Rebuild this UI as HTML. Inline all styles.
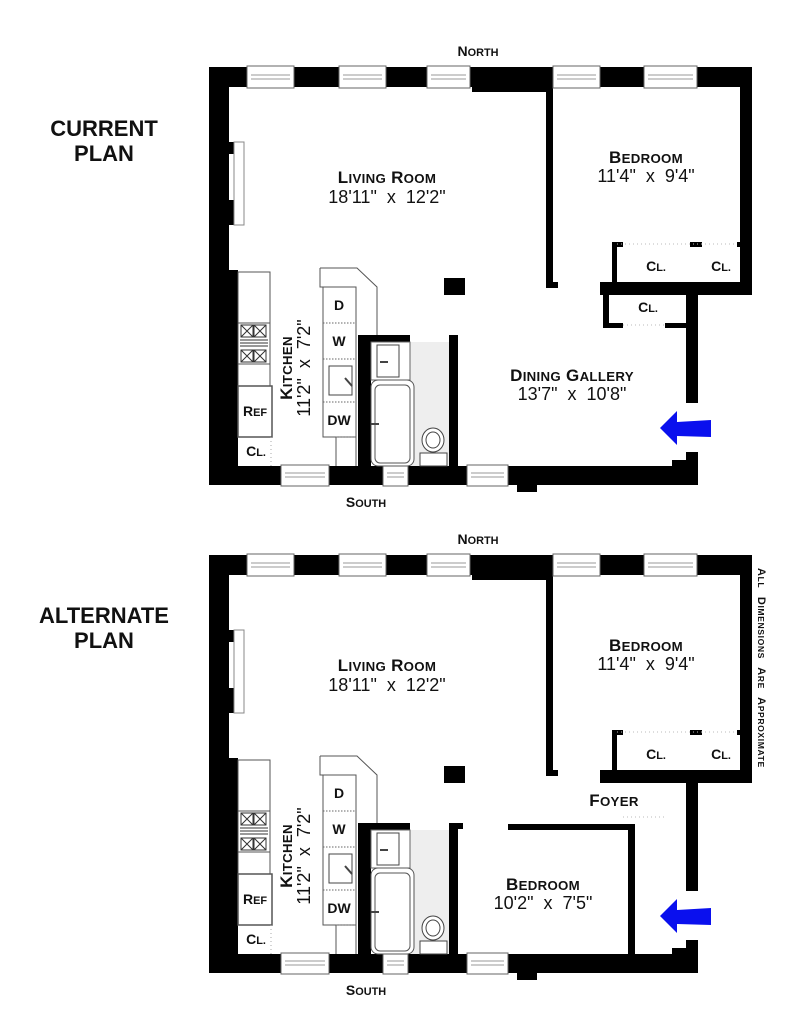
<!DOCTYPE html>
<html><head><meta charset="utf-8"><style>
html,body{margin:0;padding:0;background:#fff}
svg{display:block}
text{font-family:"Liberation Sans",Arial,sans-serif;fill:#111}
.lb{font-weight:bold;font-size:17px;text-anchor:middle;letter-spacing:0.3px}
.dm{font-size:18px;text-anchor:middle;word-spacing:5px}
.sm{font-weight:bold;font-size:14px;text-anchor:middle}
.ti{font-weight:bold;font-size:22px;text-anchor:middle}
.s{font-size:78%}
</style></head><body>
<svg width="800" height="1035" viewBox="0 0 800 1035" xmlns="http://www.w3.org/2000/svg">
<defs>
<g id="plan">
  <g fill="#000">
    <rect x="209" y="67" width="543" height="20"/>
    <rect x="472" y="67" width="79" height="25"/>
    <rect x="209" y="67" width="20" height="418"/>
    <rect x="209" y="270" width="29" height="215"/>
    <rect x="209" y="466" width="489" height="19"/>
    <rect x="517" y="466" width="20" height="26"/>
    <rect x="740" y="67" width="12" height="228"/>
    <rect x="600" y="282" width="152" height="13"/>
    <rect x="686" y="282" width="12" height="121"/>
    <rect x="672" y="460" width="26" height="25"/>
    <rect x="686" y="452" width="12" height="33"/>
    <rect x="546" y="87" width="7" height="201"/>
    <rect x="546" y="282" width="12" height="6"/>
    <rect x="612" y="242" width="5" height="45"/>
    <rect x="612" y="242" width="11" height="5"/>
    <rect x="690" y="242" width="12" height="5"/>
    <rect x="737" y="242" width="4" height="5"/>
    <rect x="444" y="278" width="21" height="17"/>
    <rect x="358" y="335" width="13" height="131"/>
    <rect x="358" y="335" width="52" height="7"/>
    <rect x="449" y="335" width="9" height="131"/>
    <rect x="229" y="142" width="6" height="12"/>
    <rect x="229" y="200" width="6" height="25"/>
  </g>
  <line x1="617" y1="244" x2="737" y2="244" stroke="#bbb" stroke-dasharray="1,3"/>
  <rect x="234" y="142" width="10" height="83" fill="#fff" stroke="#888" stroke-width="1"/>
  <g fill="#fff" stroke="#666" stroke-width="1">
    <rect x="247" y="66" width="47" height="22"/>
    <rect x="339" y="66" width="47" height="22"/>
    <rect x="427" y="66" width="43" height="22"/>
    <rect x="553" y="66" width="47" height="22"/>
    <rect x="644" y="66" width="53" height="22"/>
    <rect x="281" y="465" width="48" height="21"/>
    <rect x="383" y="465" width="25" height="21"/>
    <rect x="467" y="465" width="41" height="21"/>
  </g>
  <g stroke="#999" stroke-width="1">
    <path d="M251 75H290M251 79H290M343 75H382M343 79H382M431 75H466M431 79H466M557 75H596M557 79H596M648 75H693M648 79H693"/>
    <path d="M285 473H325M285 477H325M387 473H404M387 477H404M471 473H504M471 477H504"/>
  </g>
  <g fill="#fff" stroke="#555" stroke-width="1">
    <rect x="238" y="272" width="32" height="165"/>
    <rect x="238" y="323" width="32" height="41"/>
    <rect x="238" y="386" width="34" height="51" stroke-width="1.5"/>
  </g>
  <g stroke="#333" stroke-width="1" fill="none">
    <rect x="241" y="325" width="12" height="12"/><path d="M241 325l12 12M253 325l-12 12"/>
    <rect x="254" y="325" width="12" height="12"/><path d="M254 325l12 12M266 325l-12 12"/>
    <rect x="241" y="350" width="12" height="12"/><path d="M241 350l12 12M253 350l-12 12"/>
    <rect x="254" y="350" width="12" height="12"/><path d="M254 350l12 12M266 350l-12 12"/>
    <path d="M240 340H268M240 343H268M240 346H268"/>
  </g>
  <line x1="271" y1="437" x2="271" y2="466" stroke="#aaa" stroke-dasharray="1,3"/>
  <path d="M320 268H357L377 287V335" fill="none" stroke="#555"/>
  <path d="M320 268V287H356" fill="none" stroke="#555"/>
  <rect x="323" y="287" width="33" height="150" fill="#fff" stroke="#555"/>
  <path d="M336 437V466M356 437V466" stroke="#555"/>
  <path d="M323 323H356M323 359H356M323 402H356M336 437H356" stroke="#666" stroke-dasharray="1.5,1.5"/>
  <rect x="329" y="366" width="23" height="29" fill="none" stroke="#444"/>
  <path d="M345 378l7 8" stroke="#444" stroke-width="2"/>
  <rect x="410" y="342" width="39" height="124" fill="#eee"/>
  <rect x="371" y="342" width="39" height="38" fill="#fff" stroke="#666"/>
  <rect x="377" y="345" width="22" height="32" fill="#fff" stroke="#444"/>
  <path d="M380 362h8" stroke="#444" stroke-width="2"/>
  <rect x="371" y="380" width="43" height="86" rx="7" fill="#fff" stroke="#555"/>
  <rect x="375" y="385" width="35" height="78" rx="5" fill="none" stroke="#555"/>
  <path d="M371 424h8" stroke="#444" stroke-width="2"/>
  <ellipse cx="433" cy="440" rx="11" ry="12" fill="#fff" stroke="#444"/>
  <ellipse cx="433" cy="440" rx="7" ry="8" fill="none" stroke="#444"/>
  <rect x="420" y="453" width="27" height="13" fill="#fff" stroke="#444"/>
  <polygon points="660,428 677,411 677,422 711,420 711,437 677,436 677,445" fill="#0a10ee"/>
</g>
</defs>

<use href="#plan"/>
<use href="#plan" transform="translate(0,488)"/>

<g fill="#000">
  <rect x="603" y="282" width="6" height="46"/>
  <rect x="603" y="323" width="20" height="5"/>
  <rect x="665" y="323" width="21" height="5"/>
</g>
<line x1="623" y1="325" x2="665" y2="325" stroke="#bbb" stroke-dasharray="1,3"/>

<g fill="#000">
  <rect x="508" y="824" width="127" height="6"/>
  <rect x="628" y="824" width="7" height="130"/>
  <rect x="449" y="823" width="14" height="6"/>
</g>
<line x1="623" y1="817" x2="667" y2="817" stroke="#bbb" stroke-dasharray="1,3"/>

<text class="ti" x="104" y="136">CURRENT</text>
<text class="ti" x="104" y="161">PLAN</text>
<text class="ti" x="104" y="623">ALTERNATE</text>
<text class="ti" x="104" y="648">PLAN</text>

<text class="sm" x="478" y="56">N<tspan class="s">ORTH</tspan></text>
<text class="sm" x="366" y="507">S<tspan class="s">OUTH</tspan></text>
<text class="lb" x="387" y="183">L<tspan class="s">IVING</tspan> R<tspan class="s">OOM</tspan></text>
<text class="dm" x="387" y="203">18'11" x 12'2"</text>
<text class="lb" x="646" y="163">B<tspan class="s">EDROOM</tspan></text>
<text class="dm" x="646" y="182">11'4" x 9'4"</text>
<text class="sm" x="656" y="271">C<tspan class="s">L.</tspan></text>
<text class="sm" x="721" y="271">C<tspan class="s">L.</tspan></text>
<text class="sm" x="648" y="312">C<tspan class="s">L.</tspan></text>
<text class="lb" x="572" y="381">D<tspan class="s">INING</tspan> G<tspan class="s">ALLERY</tspan></text>
<text class="dm" x="572" y="400">13'7" x 10'8"</text>
<text class="sm" x="339" y="310">D</text>
<text class="sm" x="339" y="346">W</text>
<text class="sm" x="339" y="425">DW</text>
<text class="sm" x="255" y="416">R<tspan class="s">EF</tspan></text>
<text class="sm" x="256" y="456">C<tspan class="s">L.</tspan></text>
<text class="lb" transform="translate(292,368) rotate(-90)">K<tspan class="s">ITCHEN</tspan></text>
<text class="dm" transform="translate(310,368) rotate(-90)">11'2" x 7'2"</text>

<text class="sm" x="478" y="544">N<tspan class="s">ORTH</tspan></text>
<text class="sm" x="366" y="995">S<tspan class="s">OUTH</tspan></text>
<text class="lb" x="387" y="671">L<tspan class="s">IVING</tspan> R<tspan class="s">OOM</tspan></text>
<text class="dm" x="387" y="691">18'11" x 12'2"</text>
<text class="lb" x="646" y="651">B<tspan class="s">EDROOM</tspan></text>
<text class="dm" x="646" y="670">11'4" x 9'4"</text>
<text class="sm" x="656" y="759">C<tspan class="s">L.</tspan></text>
<text class="sm" x="721" y="759">C<tspan class="s">L.</tspan></text>
<text class="lb" x="614" y="806">F<tspan class="s">OYER</tspan></text>
<text class="lb" x="543" y="890">B<tspan class="s">EDROOM</tspan></text>
<text class="dm" x="543" y="909">10'2" x 7'5"</text>
<text class="sm" x="339" y="798">D</text>
<text class="sm" x="339" y="834">W</text>
<text class="sm" x="339" y="913">DW</text>
<text class="sm" x="255" y="904">R<tspan class="s">EF</tspan></text>
<text class="sm" x="256" y="944">C<tspan class="s">L.</tspan></text>
<text class="lb" transform="translate(292,856) rotate(-90)">K<tspan class="s">ITCHEN</tspan></text>
<text class="dm" transform="translate(310,856) rotate(-90)">11'2" x 7'2"</text>

<text transform="translate(758,568) rotate(90)" style="font-weight:bold;font-size:11px;letter-spacing:0.6px;word-spacing:5px">A<tspan class="s">LL</tspan> D<tspan class="s">IMENSIONS</tspan> A<tspan class="s">RE</tspan> A<tspan class="s">PPROXIMATE</tspan></text>
</svg>
</body></html>
